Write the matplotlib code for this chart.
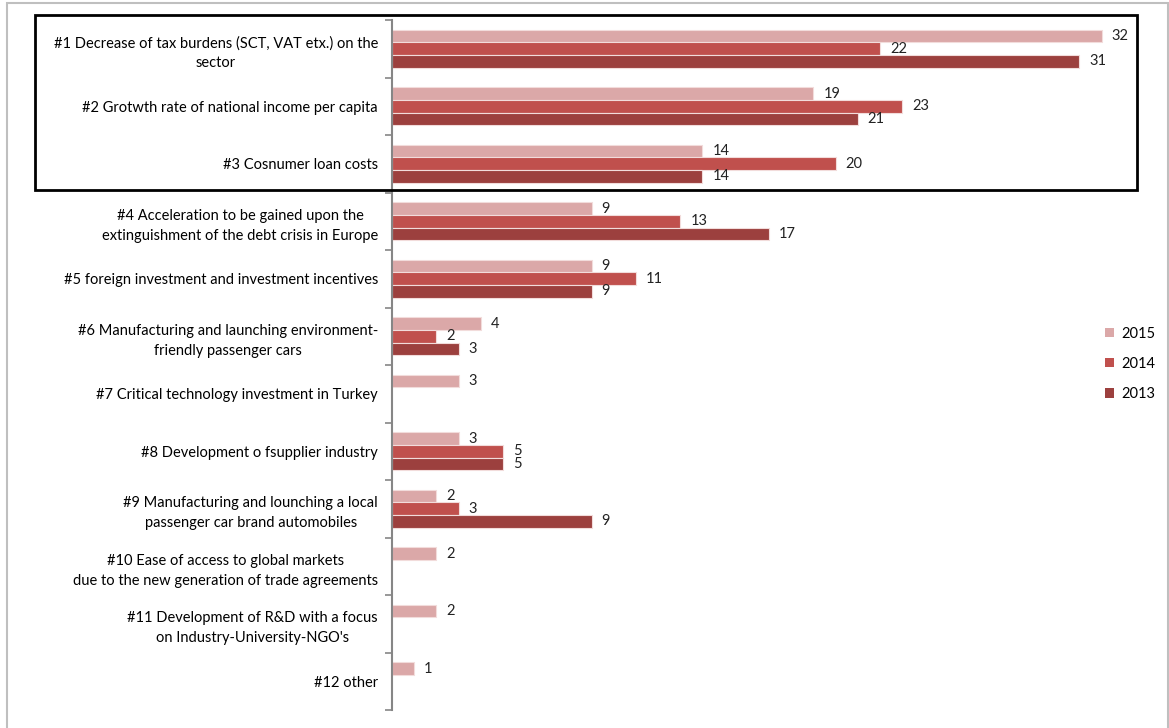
import numpy as np
import matplotlib.pyplot as plt
from matplotlib.patches import Rectangle, Patch

# data
categories = [
    "#1 Decrease of tax burdens (SCT, VAT etx.) on the\nsector",
    "#2 Grotwth rate of national income per capita",
    "#3 Cosnumer loan costs",
    "#4 Acceleration to be gained upon the\nextinguishment of the debt crisis in Europe",
    "#5 foreign investment and investment incentives",
    "#6 Manufacturing and launching environment-\nfriendly passenger cars",
    "#7 Critical technology investment in Turkey",
    "#8 Development o fsupplier industry",
    "#9 Manufacturing and lounching a local\npassenger car brand automobiles",
    "#10 Ease of access to global markets\ndue to the new generation of trade agreements",
    "#11 Development of R&D with a focus\non Industry-University-NGO's",
    "#12 other",
]
years = ["2015", "2014", "2013"]
v2015 = [32, 19, 14, 9, 9, 4, 3, 3, 2, 2, 2, 1]
v2014 = [22, 23, 20, 13, 11, 2, None, 5, 3, None, None, None]
v2013 = [31, 21, 14, 17, 9, 3, None, 5, 9, None, None, None]
colors = ["#DBA8A8", "#C0504D", "#9C403E"]

plt.rcParams["font.family"] = ["Lato", "DejaVu Sans"]
fs = 10.5

fig = plt.figure(figsize=(11.69, 7.28), dpi=100)
W, H = 1169, 728
ax = fig.add_axes([392 / W, 1 - 710 / H, (1146 - 392) / W, (710 - 20) / H])

y = np.arange(len(categories))
bh = 0.22
series = [v2015, v2014, v2013]
for i, (vals, col) in enumerate(zip(series, colors)):
    offs = (i - 1) * bh
    for j, v in enumerate(vals):
        if v is None:
            continue
        ax.barh(y[j] + offs, v, height=bh, color=col, edgecolor="#F2DCDB", linewidth=0.8)
        ax.text(v + 0.45, y[j] + offs, str(v), va="center", ha="left",
                fontsize=fs, color="#222222")

ax.set_xlim(0, 34)
ax.set_ylim(len(categories) - 0.5, -0.5)
ax.set_xticks([])
ax.set_yticks(y)
ax.set_yticklabels(categories, fontsize=fs, multialignment="center", linespacing=1.55)
ax.tick_params(axis="y", which="major", length=0, pad=10)
ax.set_yticks(np.arange(-0.5, len(categories)), minor=True)
ax.tick_params(axis="y", which="minor", length=5, color="#868686", width=1.2)
for s in ["top", "right", "bottom"]:
    ax.spines[s].set_visible(False)
ax.spines["left"].set_color("#868686")
ax.spines["left"].set_linewidth(1.5)

handles = [Patch(facecolor=c, edgecolor="none") for c in colors]
fig.legend(handles, years, loc="center left", bbox_to_anchor=(1092 / W, 1 - 364 / H),
           frameon=False, fontsize=fs, handlelength=0.6, handleheight=0.6,
           handletextpad=0.5, labelspacing=1.1)

# black highlight box round the first three items
fig.patches.append(Rectangle((35 / W, 1 - 190 / H), (1137 - 35) / W, (190 - 15) / H,
                             transform=fig.transFigure, fill=False,
                             edgecolor="black", linewidth=2))
# light grey chart frame
fig.patches.append(Rectangle((7 / W, -0.05), (1168 - 7) / W, 1.05 - 3 / H,
                             transform=fig.transFigure, fill=False,
                             edgecolor="#BFBFBF", linewidth=1.5))

fig.savefig("out.png", dpi=100)
